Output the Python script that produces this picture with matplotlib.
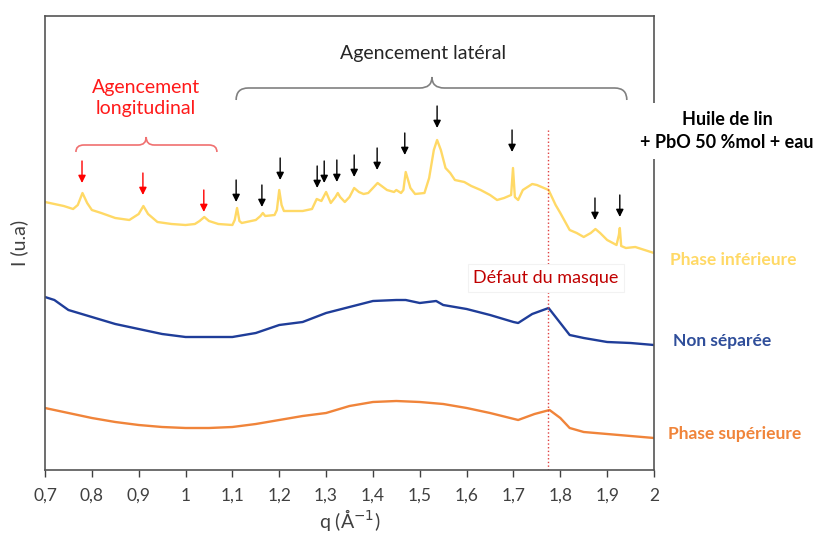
import numpy as np
import matplotlib
matplotlib.use("Agg")
import matplotlib.pyplot as plt
from matplotlib.path import Path
from matplotlib.patches import PathPatch

plt.rcParams['font.family'] = ['Lato', 'DejaVu Sans']

# --- data (q in 1/A, intensity in arbitrary units) ---
q_inf = [0.70, 0.72, 0.74, 0.76, 0.77, 0.78, 0.79, 0.80, 0.82, 0.85,
         0.88, 0.90, 0.91, 0.92, 0.94, 0.97, 1.00, 1.02, 1.03, 1.04,
         1.05, 1.07, 1.10, 1.105, 1.11, 1.115, 1.12, 1.15, 1.16, 1.165,
         1.17, 1.19, 1.195, 1.20, 1.205, 1.21, 1.25, 1.27, 1.28, 1.29,
         1.30, 1.31, 1.32, 1.325, 1.33, 1.34, 1.35, 1.36, 1.37, 1.38,
         1.39, 1.41, 1.43, 1.445, 1.45, 1.46, 1.465, 1.47, 1.48, 1.49,
         1.51, 1.52, 1.53, 1.537, 1.545, 1.555, 1.565, 1.575, 1.585, 1.595,
         1.61, 1.63, 1.65, 1.665, 1.68, 1.695, 1.699, 1.703, 1.71, 1.72,
         1.73, 1.74, 1.75, 1.765, 1.775, 1.79, 1.80, 1.82, 1.835, 1.85,
         1.865, 1.875, 1.885, 1.90, 1.92, 1.925, 1.927, 1.93, 1.94, 1.96,
         1.98, 2.00]
i_inf = [268, 266, 264, 261, 265, 277, 267, 260, 257, 252,
         250, 256, 264, 256, 248, 246, 245, 246, 249, 253,
         249, 246, 245, 250, 262, 249, 247, 250, 254, 257,
         254, 255, 260, 280, 265, 259, 259, 261, 271, 269,
         278, 267, 273, 277, 273, 268, 273, 282, 278, 276,
         277, 287, 280, 278, 280, 277, 280, 298, 282, 276,
         277, 292, 320, 330, 320, 302, 297, 290, 289, 288,
         284, 280, 275, 270, 272, 275, 302, 273, 270, 280,
         283, 286, 285, 282, 280, 265, 257, 240, 237, 233,
         237, 241, 237, 230, 225, 235, 242, 224, 222, 223,
         220, 217]

q_non = [0.70, 0.72, 0.75, 0.80, 0.85, 0.90, 0.95, 1.00, 1.05, 1.10,
         1.15, 1.20, 1.25, 1.30, 1.35, 1.40, 1.45, 1.47, 1.50, 1.535,
         1.55, 1.60, 1.65, 1.70, 1.71, 1.74, 1.775, 1.80, 1.82, 1.85,
         1.90, 1.95, 2.00]
i_non = [173, 170, 160, 153, 146, 141, 136, 133, 133, 133,
         137, 145, 148, 157, 163, 169, 170, 170, 167, 169,
         165, 161, 155, 148, 147, 156, 162, 147, 135, 132,
         128, 127, 125]

q_sup = [0.70, 0.75, 0.80, 0.85, 0.90, 0.95, 1.00, 1.05, 1.10, 1.15,
         1.20, 1.25, 1.30, 1.35, 1.40, 1.45, 1.50, 1.55, 1.60, 1.65,
         1.71, 1.745, 1.777, 1.80, 1.82, 1.85, 1.90, 1.95, 2.00]
i_sup = [62, 57, 52, 48, 45, 43, 42, 42, 43, 46,
         50, 54, 57, 64, 68, 69, 68, 66, 62, 57,
         50, 56, 60, 52, 42, 38, 36, 34, 32]

# peak markers
q_lat = [1.108, 1.163, 1.202, 1.281, 1.296, 1.323, 1.360, 1.409, 1.468,
         1.537, 1.697, 1.874, 1.927]
i_lat = [268, 263, 290, 282, 287, 288, 293, 300, 315, 342, 318, 250, 253]
q_long = [0.779, 0.909, 1.039]
i_long = [287, 275, 258]

q_mask = 1.774
xticks = [0.7, 0.8, 0.9, 1.0, 1.1, 1.2, 1.3, 1.4, 1.5, 1.6, 1.7, 1.8, 1.9, 2.0]
xticklabels = ['0,7', '0,8', '0,9', '1', '1,1', '1,2', '1,3', '1,4', '1,5',
               '1,6', '1,7', '1,8', '1,9', '2']

c_inf = '#FFD966'
c_non = '#1F3D99'
c_sup = '#F0843A'

fig = plt.figure(figsize=(8.28, 5.33), dpi=100)
ax = fig.add_axes([45/828, 1 - 470/533, 609/828, 454/533])

ax.plot(q_inf, i_inf, color=c_inf, lw=1.7)
ax.plot(q_non, i_non, color=c_non, lw=1.7)
ax.plot(q_sup, i_sup, color=c_sup, lw=1.7)

ax.set_xlim(0.7, 2.0)
ax.set_ylim(0, 454)
ax.set_xticks(xticks)
ax.set_xticklabels(xticklabels)
ax.set_yticks([])
ax.tick_params(axis='x', direction='out', length=5, width=1, labelsize=12.5,
               colors='#404040', pad=8)
for s in ax.spines.values():
    s.set_color('#555555')
    s.set_linewidth(1.2)
ax.set_ylabel('I (u.a)', fontsize=14, color='#404040', labelpad=12)
ax.set_xlabel('q (Å$^{-1}$)', fontsize=14, color='#404040', labelpad=2)

# arrows
for q, i in zip(q_lat, i_lat):
    ax.annotate('', xy=(q, i), xytext=(q, i + 22),
                arrowprops=dict(arrowstyle='-|>', color='black', lw=1,
                                mutation_scale=11, shrinkA=0, shrinkB=0))
for q, i in zip(q_long, i_long):
    ax.annotate('', xy=(q, i), xytext=(q, i + 22),
                arrowprops=dict(arrowstyle='-|>', color='red', lw=1,
                                mutation_scale=11, shrinkA=0, shrinkB=0))


def brace(x0, x1, xm, y, h_end, h_mid, rx, color):
    verts = [(x0, y - h_end), (x0, y), (x0 + rx, y),
             (xm - rx, y), (xm, y), (xm, y + h_mid),
             (xm, y), (xm + rx, y),
             (x1 - rx, y), (x1, y), (x1, y - h_end)]
    codes = [Path.MOVETO, Path.CURVE3, Path.CURVE3,
             Path.LINETO, Path.CURVE3, Path.CURVE3,
             Path.CURVE3, Path.CURVE3,
             Path.LINETO, Path.CURVE3, Path.CURVE3]
    ax.add_patch(PathPatch(Path(verts, codes), fill=False, ec=color, lw=1.2,
                           clip_on=False))


brace(1.108, 1.942, 1.526, 382, 12, 11, 0.026, '#808080')
brace(0.766, 1.067, 0.916, 325, 7, 8, 0.017, '#F07070')

ax.text(1.507, 417, 'Agencement latéral', ha='center', va='center',
        fontsize=14, color='#262626')
ax.text(0.916, 372, 'Agencement\nlongitudinal', ha='center', va='center',
        fontsize=14, color='#FF1A1A', linespacing=1.25)

ax.plot([q_mask, q_mask], [0, 340], color='#E04040', ls=':', lw=1)
ax.text(1.769, 192, 'Défaut du masque', ha='center', va='center',
        fontsize=13, color='#C00000',
        bbox=dict(fc='white', ec='#F2F2F2', lw=0.8, pad=4))

# labels on the right
fig.text(727/828, 1 - 131/533, 'Huile de lin\n+ PbO 50 %mol + eau',
         ha='center', va='center', fontsize=13, fontweight='bold',
         color='black', linespacing=1.45,
         bbox=dict(fc='white', ec='none', pad=6))
fig.text(670/828, 1 - 260/533, 'Phase inférieure', ha='left', va='center',
         fontsize=12.5, fontweight='bold', color=c_inf)
fig.text(673/828, 1 - 341/533, 'Non séparée', ha='left', va='center',
         fontsize=12.5, fontweight='bold', color='#2F4E9A')
fig.text(668/828, 1 - 434/533, 'Phase supérieure', ha='left', va='center',
         fontsize=12.5, fontweight='bold', color=c_sup)

fig.savefig('out.png', dpi=100)
